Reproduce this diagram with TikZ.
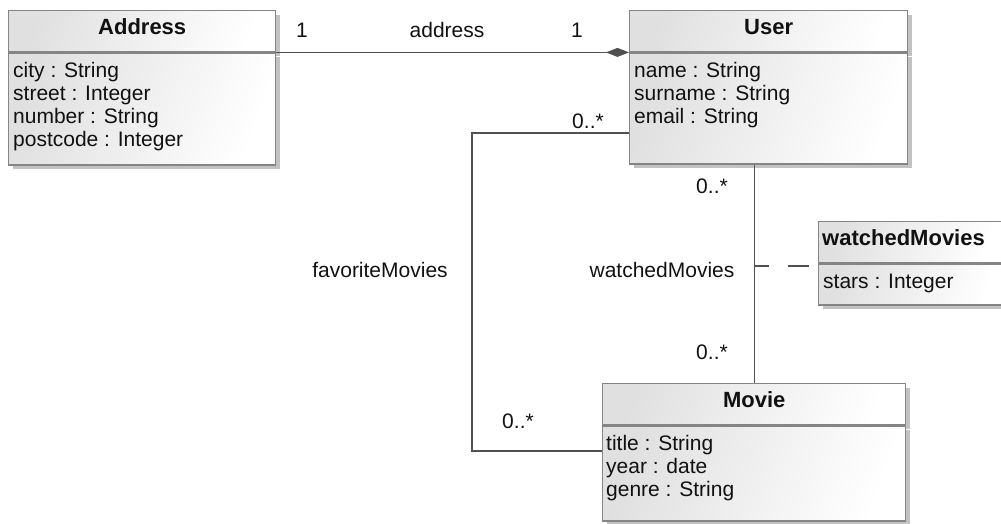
\documentclass[tikz,border=0pt]{standalone}
\usepackage{fontspec}
\setmainfont{Liberation Sans}
\usetikzlibrary{shadows,arrows.meta}

\definecolor{boxline}{HTML}{858585}
\definecolor{wirecol}{HTML}{505050}
\definecolor{shadowcol}{HTML}{C2C2C2}
\definecolor{fillgray}{HTML}{E0E0E0}
\definecolor{ink}{HTML}{111111}

\tikzset{
  part/.style={rectangle, draw=boxline, line width=1.4pt, inner sep=0pt,
    anchor=north west, top color=fillgray, bottom color=white, shading angle=70,
    general shadow={fill=shadowcol, shadow xshift=4pt, shadow yshift=-4pt}},
  classname/.style={font=\fontsize{22}{24}\selectfont\bfseries, text=ink,
    anchor=base, inner sep=0pt},
  attr/.style={font=\fontsize{21}{23}\selectfont, text=ink,
    anchor=base west, inner sep=0pt},
  lbl/.style={font=\fontsize{21}{23}\selectfont, text=ink,
    anchor=base, inner sep=0pt},
  assoc/.style={draw=wirecol, line width=1.3pt},
}

\begin{document}
\begin{tikzpicture}[x=1pt, y=-1pt]
\clip (0,0) rectangle (1001,523);

% ---- Address ----
\node[part, minimum width=267pt, minimum height=41pt] (addressH) at (8,10) {};
\node[part, minimum width=267pt, minimum height=112pt] (addressB) at (addressH.south west) {};
\node[classname] (addressT) at ([yshift=-24pt]addressH.north) {Address};
\foreach \txt [count=\i] in {city : String, street : Integer, number : String, postcode : Integer}
  \node[attr] (addressA\i) at ([shift={(5pt,{-2.5pt-23pt*\i})}]addressB.north west) {\txt};

% ---- User ----
\node[part, minimum width=278pt, minimum height=41pt] (userH) at (629,10) {};
\node[part, minimum width=278pt, minimum height=111pt] (userB) at (userH.south west) {};
\node[classname] (userT) at ([yshift=-24pt]userH.north) {User};
\foreach \txt [count=\i] in {name : String, surname : String, email : String}
  \node[attr] (userA\i) at ([shift={(5pt,{-2.5pt-23pt*\i})}]userB.north west) {\txt};

% ---- watchedMovies (association class) ----
\node[part, minimum width=186pt, minimum height=41pt] (wmH) at (818,221) {};
\node[part, minimum width=186pt, minimum height=41pt] (wmB) at (wmH.south west) {};
\node[classname, anchor=base west] (wmT) at ([shift={(4pt,-24pt)}]wmH.north west) {watchedMovies};
\node[attr] (wmA1) at ([shift={(5pt,-25pt)}]wmB.north west) {stars : Integer};

% ---- Movie ----
\node[part, minimum width=303pt, minimum height=41pt] (movieH) at (602,383) {};
\node[part, minimum width=303pt, minimum height=95pt] (movieB) at (movieH.south west) {};
\node[classname] (movieT) at ([yshift=-24pt]movieH.north) {Movie};
\foreach \txt [count=\i] in {title : String, year : date, genre : String}
  \node[attr] (movieA\i) at ([shift={(4pt,{-2.5pt-23pt*\i})}]movieB.north west) {\txt};

% ---- associations ----
\draw[assoc, -{Diamond[length=23pt, width=9pt]}] (addressH.south east) -- (userH.south west);

\coordinate (favTop) at (472,133);
\coordinate (favBot) at (472,451);
\draw[assoc] (userB.west |- favTop) -- (favTop) -- (favBot) -- (movieB.west |- favBot);

\draw[assoc] (movieH.north) -- (movieH.north |- userB.south);

\coordinate (wmTap) at (movieH.north |- 0,266);
\draw[assoc, dash pattern=on 15pt off 19pt on 21pt off 20pt] (wmTap) -- (wmB.west |- wmTap);

% ---- association labels ----
\node[lbl] (addrEnd) at (302,37) {1};
\node[lbl] (addrName) at (447,37) {address};
\node[lbl] (userEnd) at (577,37) {1};
\node[lbl] (favUserEnd) at (588,128) {0..*};
\node[lbl] (favName) at (380,277) {favoriteMovies};
\node[lbl] (favMovieEnd) at (518,428) {0..*};
\node[lbl] (wmUserEnd) at (712,193) {0..*};
\node[lbl] (wmName) at (662,277) {watchedMovies};
\node[lbl] (wmMovieEnd) at (712,359) {0..*};
\end{tikzpicture}
\end{document}
